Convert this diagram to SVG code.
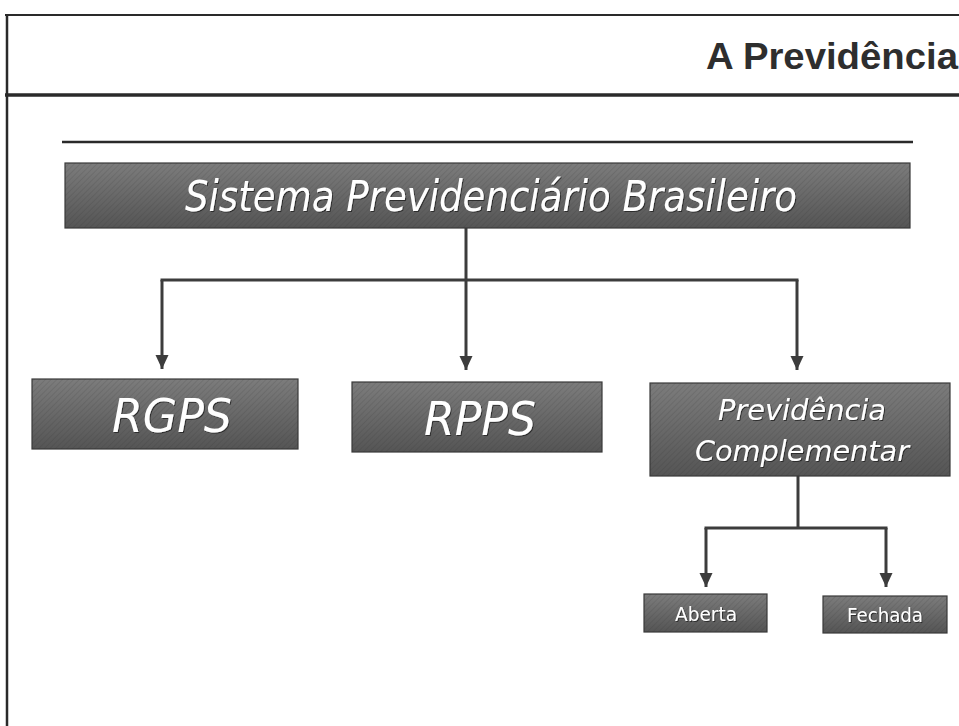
<svg xmlns="http://www.w3.org/2000/svg" width="959" height="726" viewBox="0 0 959 726">
<style>
.frame{stroke:#2a2a2a;fill:none}
.box{stroke:#3a3a3a;stroke-width:1.2;fill:url(#g)}
.conn{stroke:#3c3c3c;stroke-width:3;fill:none}
.lbl{fill:#ffffff;font-family:"DejaVu Sans","Liberation Sans",sans-serif;text-anchor:middle}
.it{font-style:italic}
</style>
<defs>
<linearGradient id="g" x1="0" y1="0" x2="0" y2="1">
<stop offset="0" stop-color="#7c7c7c"/>
<stop offset="1" stop-color="#555555"/>
</linearGradient>
<pattern id="hatch" width="4" height="4" patternUnits="userSpaceOnUse" patternTransform="rotate(45)">
<line x1="0" y1="0" x2="0" y2="4" stroke="#222" stroke-width="1" opacity="0.25"/>
</pattern>
<filter id="sh" x="-5%" y="-5%" width="110%" height="120%">
<feDropShadow dx="1" dy="1" stdDeviation="0.6" flood-color="#222" flood-opacity="0.8"/>
</filter>
<marker id="arr" markerUnits="userSpaceOnUse" markerWidth="16" markerHeight="16" viewBox="0 0 16 16" refX="15" refY="8" orient="auto">
<path d="M1,1.5 L15,8 L1,14.5 Z" fill="#3c3c3c"/>
</marker>
</defs>
<rect width="959" height="726" fill="#ffffff"/>
<g id="frame">
<line class="frame" x1="5" y1="15" x2="959" y2="15" stroke-width="2"/>
<line class="frame" x1="7" y1="14" x2="7" y2="726" stroke-width="2.5"/>
<line class="frame" x1="5" y1="95" x2="959" y2="95" stroke-width="3.5" stroke="#3a3a3a"/>
<line class="frame" x1="62" y1="142" x2="913" y2="142" stroke-width="2.5"/>
<text x="706" y="69" font-family="'Liberation Sans','DejaVu Sans',sans-serif" font-weight="bold" font-size="36" fill="#2e2e2e" textLength="252" lengthAdjust="spacingAndGlyphs">A Previdência</text>
</g>
<g id="connectors">
<path class="conn" d="M466,228 V370" marker-end="url(#arr)"/>
<path class="conn" d="M160.5,280 H798.5"/>
<path class="conn" d="M162,280 V369" marker-end="url(#arr)"/>
<path class="conn" d="M797,280 V370" marker-end="url(#arr)"/>
<path class="conn" d="M798,476 V528"/>
<path class="conn" d="M704.5,528 H887.5"/>
<path class="conn" d="M706,528 V587" marker-end="url(#arr)"/>
<path class="conn" d="M886,528 V587" marker-end="url(#arr)"/>
</g>
<g id="sistema">
<rect class="box" x="65" y="163" width="845" height="65"/>
<rect x="65" y="163" width="845" height="65" fill="url(#hatch)"/>
<text class="lbl it" x="491" y="211" font-size="42" textLength="612" lengthAdjust="spacingAndGlyphs" filter="url(#sh)">Sistema Previdenciário Brasileiro</text>
</g>
<g id="rgps">
<rect class="box" x="32" y="379" width="266" height="70"/>
<rect x="32" y="379" width="266" height="70" fill="url(#hatch)"/>
<text class="lbl it" x="172" y="432" font-size="47" textLength="120" lengthAdjust="spacingAndGlyphs" filter="url(#sh)">RGPS</text>
</g>
<g id="rpps">
<rect class="box" x="352" y="382" width="250" height="70"/>
<rect x="352" y="382" width="250" height="70" fill="url(#hatch)"/>
<text class="lbl it" x="480" y="435" font-size="47" textLength="112" lengthAdjust="spacingAndGlyphs" filter="url(#sh)">RPPS</text>
</g>
<g id="complementar">
<rect class="box" x="650" y="383" width="300" height="93"/>
<rect x="650" y="383" width="300" height="93" fill="url(#hatch)"/>
<text class="lbl it" x="802" y="420" font-size="29" textLength="168" lengthAdjust="spacingAndGlyphs" filter="url(#sh)">Previdência</text>
<text class="lbl it" x="802" y="461" font-size="29" textLength="214" lengthAdjust="spacingAndGlyphs" filter="url(#sh)">Complementar</text>
</g>
<g id="aberta">
<rect class="box" x="644" y="594" width="123" height="38"/>
<rect x="644" y="594" width="123" height="38" fill="url(#hatch)"/>
<text class="lbl" x="706" y="621" font-size="19" textLength="62" lengthAdjust="spacingAndGlyphs" filter="url(#sh)">Aberta</text>
</g>
<g id="fechada">
<rect class="box" x="823" y="596" width="124" height="37"/>
<rect x="823" y="596" width="124" height="37" fill="url(#hatch)"/>
<text class="lbl" x="885" y="622" font-size="19" textLength="76" lengthAdjust="spacingAndGlyphs" filter="url(#sh)">Fechada</text>
</g>
</svg>
